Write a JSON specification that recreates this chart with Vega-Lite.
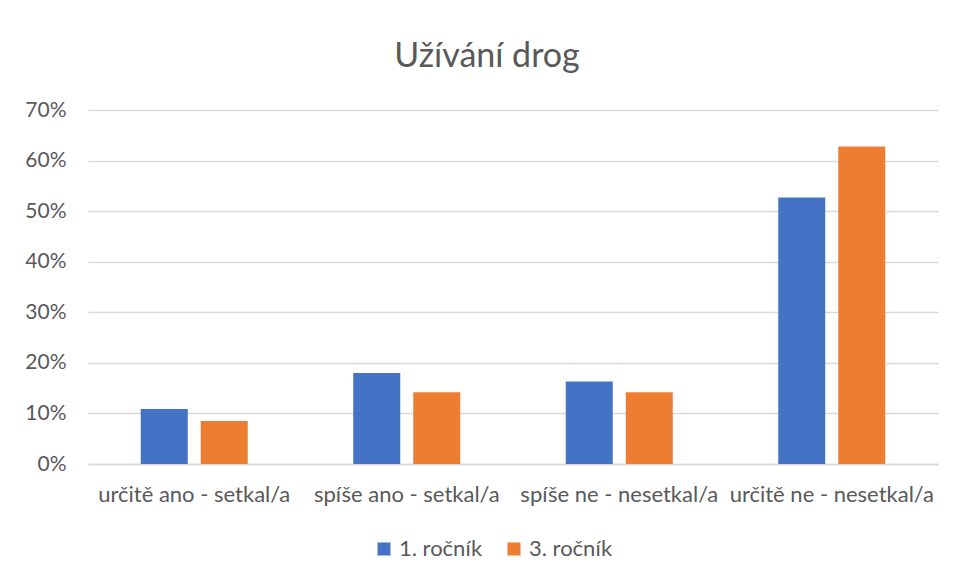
{
  "$schema": "https://vega.github.io/schema/vega-lite/v6.json",
  "width": 850,
  "height": 354,
  "autosize": {"type": "none"},
  "padding": {"left": 88, "top": 110, "right": 17, "bottom": 116},
  "background": "white",
  "title": {
    "text": "Užívání drog",
    "font": "Lato",
    "fontSize": 34,
    "fontWeight": "normal",
    "color": "#595959",
    "anchor": "middle",
    "baseline": "alphabetic",
    "dx": -26,
    "dy": 32,
    "offset": 30
  },
  "data": {
    "values": [
      {"kategorie": "určitě ano - setkal/a", "rocnik": "1. ročník", "podil": 0.109},
      {"kategorie": "určitě ano - setkal/a", "rocnik": "3. ročník", "podil": 0.085},
      {"kategorie": "spíše ano - setkal/a", "rocnik": "1. ročník", "podil": 0.180},
      {"kategorie": "spíše ano - setkal/a", "rocnik": "3. ročník", "podil": 0.142},
      {"kategorie": "spíše ne - nesetkal/a", "rocnik": "1. ročník", "podil": 0.163},
      {"kategorie": "spíše ne - nesetkal/a", "rocnik": "3. ročník", "podil": 0.142},
      {"kategorie": "určitě ne - nesetkal/a", "rocnik": "1. ročník", "podil": 0.527},
      {"kategorie": "určitě ne - nesetkal/a", "rocnik": "3. ročník", "podil": 0.628}
    ]
  },
  "mark": {"type": "bar"},
  "encoding": {
    "x": {
      "field": "kategorie",
      "type": "nominal",
      "sort": null,
      "title": null,
      "scale": {"paddingInner": 0, "paddingOuter": 0},
      "axis": {
        "labelAngle": 0,
        "ticks": false,
        "domainColor": "#d9d9d9",
        "domainWidth": 1.5,
        "labelPadding": 20,
        "labelFont": "Lato",
        "labelFontSize": 22,
        "labelColor": "#595959",
        "labelLimit": 300
      }
    },
    "xOffset": {
      "field": "rocnik",
      "type": "nominal",
      "scale": {"paddingInner": 0.2167, "paddingOuter": 0.879}
    },
    "y": {
      "field": "podil",
      "type": "quantitative",
      "title": null,
      "scale": {"domain": [0, 0.7], "nice": false},
      "axis": {
        "format": ".0%",
        "values": [0, 0.1, 0.2, 0.3, 0.4, 0.5, 0.6, 0.7],
        "domain": false,
        "ticks": false,
        "labelPadding": 22,
        "labelFont": "Lato",
        "labelFontSize": 21,
        "labelColor": "#595959",
        "gridColor": "#d9d9d9",
        "gridWidth": 1.5
      }
    },
    "color": {
      "field": "rocnik",
      "type": "nominal",
      "title": null,
      "scale": {"domain": ["1. ročník", "3. ročník"], "range": ["#4472C4", "#ED7D31"]},
      "legend": {
        "orient": "none",
        "direction": "horizontal",
        "legendX": 285,
        "legendY": 428,
        "symbolType": "square",
        "symbolSize": 169,
        "symbolStrokeWidth": 0,
        "symbolOpacity": 1,
        "labelFont": "Lato",
        "labelFontSize": 22,
        "labelColor": "#595959",
        "columnPadding": 20,
        "labelOffset": 4
      }
    }
  },
  "config": {
    "view": {"stroke": null}
  }
}
